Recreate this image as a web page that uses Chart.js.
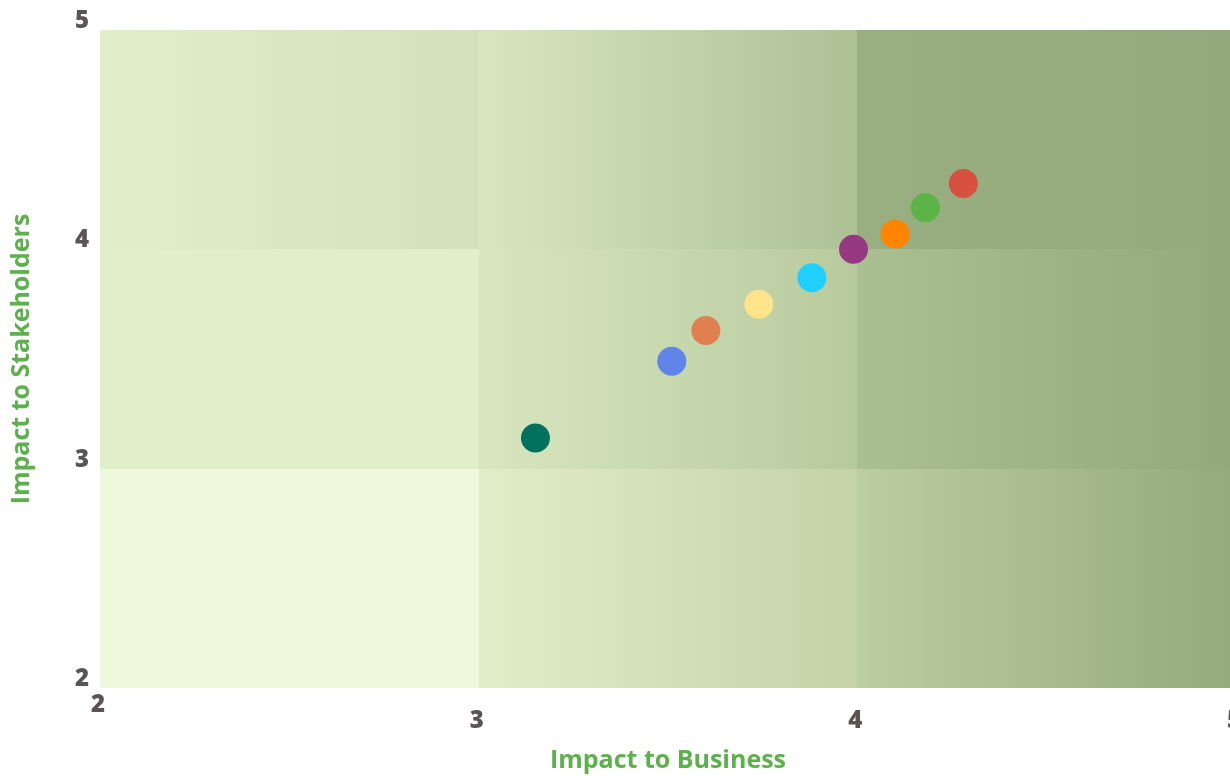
<!DOCTYPE html>
<html>
<head>
<meta charset="utf-8">
<script src="https://cdn.jsdelivr.net/npm/chart.js@4"></script>
<style>
  html, body { margin: 0; padding: 0; background: #fff; overflow: hidden; }
  #wrap { position: relative; width: 1252px; height: 776px; }
</style>
</head>
<body>
<div id="wrap"><canvas id="matrix"></canvas></div>
<script>
// Materiality matrix data
const businessImpact = [3.15, 3.51, 3.60, 3.74, 3.88, 3.99, 4.10, 4.18, 4.28];
const stakeholderImpact = [3.14, 3.49, 3.63, 3.75, 3.87, 4.00, 4.07, 4.19, 4.30];
const pointColors = ['#02725f', '#6184e8', '#e08050', '#fde38a', '#1fcfff', '#963882', '#ff8400', '#5cb346', '#d75040'];
const xTickLabels = ['2', '3', '4', '5'];
const yTickLabels = ['2', '3', '4', '5'];

const labelGrey = '#5a5555';
const titleGreen = '#5bb24a';

// shaded 3x3 background, rows from bottom band to top band, each cell a left->right gradient
const cellShades = [
    [['#eff7dc', '#eff7dc'], ['#e1edc8', '#c3d3a7'], ['#bbcda1', '#94aa7a']],
    [['#e0eec9', '#e0eec9'], ['#d8e6c0', '#b7ca9d'], ['#aabf92', '#93a97a']],
    [['#e0eec9', '#d2e1bb'], ['#d8e6c0', '#adc195'], ['#99ae81', '#94aa7b']]
];

const backgroundGrid = {
    id: 'backgroundGrid',
    beforeDatasetsDraw(chart) {
        const { ctx, scales: { x, y } } = chart;
        ctx.save();
        for (let r = 0; r < 3; r++) {
            for (let c = 0; c < 3; c++) {
                const x0 = Math.round(x.getPixelForValue(2 + c));
                const x1 = Math.round(x.getPixelForValue(3 + c));
                const y0 = Math.round(y.getPixelForValue(3 + r));
                const y1 = Math.round(y.getPixelForValue(2 + r));
                const g = ctx.createLinearGradient(x0, 0, x1, 0);
                g.addColorStop(0, cellShades[r][c][0]);
                g.addColorStop(1, cellShades[r][c][1]);
                ctx.fillStyle = g;
                ctx.fillRect(x0, y0, x1 - x0, y1 - y0);
            }
        }
        ctx.restore();
    }
};

document.addEventListener('DOMContentLoaded', function() {
    const ctx = document.getElementById('matrix').getContext('2d');
    new Chart(ctx, {
        type: 'scatter',
        data: {
            datasets: [{
                data: businessImpact.map((v, i) => ({ x: v, y: stakeholderImpact[i] })),
                backgroundColor: pointColors,
                borderColor: pointColors,
                borderWidth: 0,
                pointRadius: 14.5,
                pointHoverRadius: 14.5
            }]
        },
        options: {
            responsive: true,
            maintainAspectRatio: false,
            animation: false,
            events: [],
            layout: { padding: { top: 30, right: 11, left: 0, bottom: 0 } },
            plugins: {
                legend: { display: false },
                tooltip: { enabled: false }
            },
            scales: {
                x: {
                    type: 'linear',
                    min: 2,
                    max: 5,
                    grid: { display: false, drawTicks: false },
                    border: { display: false },
                    ticks: {
                        stepSize: 1,
                        padding: 9,
                        labelOffset: -2,
                        color: labelGrey,
                        font: { family: 'Open Sans', size: 24, weight: 800, lineHeight: 0.67 },
                        callback: function(value, index) {
                            const label = xTickLabels[index];
                            return index === 0 ? label : ['', label];
                        }
                    },
                    title: {
                        display: true,
                        text: 'Impact to Business',
                        color: titleGreen,
                        font: { family: 'Open Sans', size: 25, weight: 'bold' },
                        padding: { top: 0, bottom: 0 }
                    },
                    afterFit: function(scale) { scale.height = 88; }
                },
                y: {
                    type: 'linear',
                    min: 2,
                    max: 5,
                    grid: { display: false, drawTicks: false },
                    border: { display: false },
                    ticks: {
                        stepSize: 1,
                        padding: 11,
                        labelOffset: -9,
                        color: labelGrey,
                        font: { family: 'Open Sans', size: 24, weight: 800 },
                        callback: function(value, index) { return yTickLabels[index]; }
                    },
                    title: {
                        display: true,
                        text: 'Impact to Stakeholders',
                        color: titleGreen,
                        font: { family: 'Open Sans', size: 25, weight: 'bold' },
                        padding: { top: 7, bottom: 0 }
                    },
                    afterFit: function(scale) { scale.width = 100; }
                }
            }
        },
        plugins: [backgroundGrid]
    });
});
</script>
</body>
</html>
